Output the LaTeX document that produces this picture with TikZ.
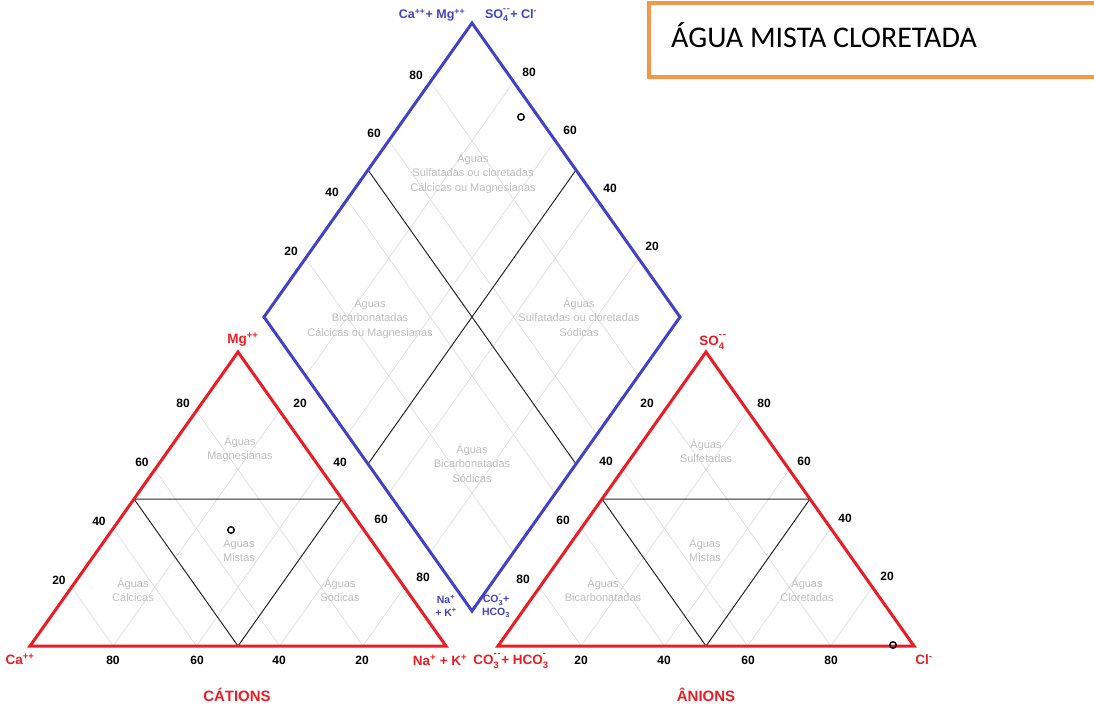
\documentclass[tikz,border=0pt]{standalone}
\usepackage{fontspec}
\setmainfont{Liberation Sans}
\newfontfamily\titlefont{Carlito}
\usetikzlibrary{calc}
\definecolor{pipred}{RGB}{235,28,36}
\definecolor{pipblue}{RGB}{66,66,200}
\definecolor{gridgray}{RGB}{222,222,222}
\definecolor{zonegray}{RGB}{190,190,190}
\definecolor{boxorange}{RGB}{247,150,70}
% ion with stacked sub- and superscript
\newcommand{\ionss}[2]{\begingroup
  \setbox0\hbox{\raisebox{.18em}{\textsuperscript{#2}}}%
  \setbox2\hbox{\raisebox{-.12em}{\textsubscript{#1}}}%
  \ifdim\wd0>\wd2 \wd2=\wd0 \fi\rlap{\box0}\box2\endgroup}
\newcommand{\dm}{-\kern.1em-}

\begin{document}
\begin{tikzpicture}[x=1pt,y=-1pt,
  tri/.style={draw=pipred,line width=3pt},
  dia/.style={draw=pipblue,line width=3pt},
  grd/.style={draw=gridgray,line width=0.7pt},
  split/.style={draw=black!85,line width=1pt},
  zone/.style={text=zonegray,font=\fontsize{11}{14.5}\selectfont,align=center},
  num/.style={font=\bfseries\fontsize{12}{12}\selectfont},
  redlbl/.style={text=pipred,font=\bfseries\fontsize{13.5}{14}\selectfont,inner sep=0pt},
  bluelbl/.style={text=pipblue,font=\bfseries\fontsize{12.5}{13}\selectfont,inner sep=0pt},
  smallblue/.style={text=pipblue,font=\bfseries\fontsize{10.5}{13}\selectfont,align=center,inner sep=0pt},
  sample/.style={draw,line width=1.4pt,circle,inner sep=0pt,minimum size=6.5pt}
]
\useasboundingbox (0,0) rectangle (1094,707);

\coordinate (ca) at (30,646);
\coordinate (na) at (446,646);
\coordinate (mg) at (238,352);
\coordinate (co) at (498,646);
\coordinate (cl) at (914,646);
\coordinate (so) at (706,352);
\coordinate (dt) at (472,23);
\coordinate (dl) at (264,317);
\coordinate (dr) at (680,317);
\coordinate (db) at (472,611);

% grid
\foreach \f in {0.2,0.4,0.6,0.8}{
  \draw[grd] ($(ca)!\f!(na)$) -- ($(mg)!\f!(na)$);
  \draw[grd] ($(na)!\f!(ca)$) -- ($(mg)!\f!(ca)$);
  \draw[grd] ($(co)!\f!(cl)$) -- ($(so)!\f!(cl)$);
  \draw[grd] ($(cl)!\f!(co)$) -- ($(so)!\f!(co)$);
  \draw[grd] ($(dl)!\f!(db)$) -- ($(dt)!\f!(dr)$);
  \draw[grd] ($(dl)!\f!(dt)$) -- ($(db)!\f!(dr)$);
}

% zone borders
\draw[split] ($(ca)!.5!(mg)$) -- ($(na)!.5!(mg)$) -- ($(ca)!.5!(na)$) -- cycle;
\draw[split] ($(co)!.5!(so)$) -- ($(cl)!.5!(so)$) -- ($(co)!.5!(cl)$) -- cycle;
\draw[split] ($(dl)!.5!(dt)$) -- ($(db)!.5!(dr)$);
\draw[split] ($(dt)!.5!(dr)$) -- ($(dl)!.5!(db)$);

% outlines
\draw[tri] (ca) -- (na) -- (mg) -- cycle;
\draw[tri] (co) -- (cl) -- (so) -- cycle;
\draw[dia] (dl) -- (dt) -- (dr) -- (db) -- cycle;

% scale numbers
\foreach \v/\x/\y in {20/59/580,40/99/521,60/142/462,80/183/403}
  \node[num] (cl\v) at (\x,\y) {\v};
\foreach \v/\x/\y in {20/300/403,40/340/462,60/381/519,80/423/577}
  \node[num] (cr\v) at (\x,\y) {\v};
\foreach \v/\x in {80/113,60/197,40/279,20/362}
  \node[num] (cb\v) at (\x,660) {\v};
\foreach \v/\x/\y in {20/647/403,40/606/461,60/563/520,80/523/579}
  \node[num] (al\v) at (\x,\y) {\v};
\foreach \v/\x/\y in {80/764/403,60/804/461,40/845/518,20/887/576}
  \node[num] (ar\v) at (\x,\y) {\v};
\foreach \v/\x in {20/581,40/664,60/748,80/831}
  \node[num] (ab\v) at (\x,660) {\v};
\foreach \v/\x/\y in {80/416/75,60/374/133,40/332/192,20/291/251}
  \node[num] (dul\v) at (\x,\y) {\v};
\foreach \v/\x/\y in {80/529/72,60/570/130,40/610/188,20/652/246}
  \node[num] (dur\v) at (\x,\y) {\v};

% zones
\node[zone] (zmag) at (240,449) {Águas\\Magnesianas};
\node[zone] (zmix1) at (239,550) {Águas\\Mistas};
\node[zone] (zcal) at (133,590) {Águas\\Cálcicas};
\node[zone] (zsod) at (340,590) {Águas\\Sódicas};
\node[zone] (zsul) at (706,451) {Águas\\Sulfetadas};
\node[zone] (zmix2) at (705,550) {Águas\\Mistas};
\node[zone] (zbic) at (603,590) {Águas\\Bicarbonatadas};
\node[zone] (zclo) at (807,590) {Águas\\Cloretadas};
\node[zone] (dtop) at (473,173) {Águas\\Sulfatadas ou cloretadas\\Cálcicas ou Magnesianas};
\node[zone] (dleft) at (370,318) {Águas\\Bicarbonatadas\\Cálcicas ou Magnesianas};
\node[zone] (dright) at (579,317) {Águas\\Sulfatadas ou cloretadas\\Sódicas};
\node[zone] (dbot) at (472,463) {Águas\\Bicarbonatadas\\Sódicas};

% axis labels
\node[redlbl] (lmg) at (243,340) {Mg\textsuperscript{++}};
\node[redlbl] (lca) at (20,659) {Ca\textsuperscript{++}};
\node[redlbl] (lna) at (440,660) {Na\textsuperscript{+} + K\textsuperscript{+}};
\node[redlbl,font=\bfseries\fontsize{15}{15}\selectfont] (lcat) at (237,695) {CÁTIONS};
\node[redlbl] (lso) at (713,342) {SO\ionss{4}{\dm}};
\node[redlbl] (lco) at (511,661) {CO\ionss{3}{\dm}+ HCO\ionss{3}{-}};
\node[redlbl] (lcl) at (924,660) {Cl\textsuperscript{-}};
\node[redlbl,font=\bfseries\fontsize{15}{15}\selectfont] (lan) at (706,695) {ÂNIONS};
\node[bluelbl] (lcamg) at (432,15) {Ca\textsuperscript{++}+ Mg\textsuperscript{++}};
\node[bluelbl] (lsocl) at (511,15) {SO\ionss{4}{\dm}+ Cl\textsuperscript{-}};
\node[smallblue] (lnak) at (446,606) {Na\textsuperscript{+}\\+ K\textsuperscript{+}};
\node[smallblue] (lhco) at (496,606) {CO\ionss{3}{-}+\\HCO\textsubscript{3}};

% samples
\node[sample] (s1) at (231,530) {};
\node[sample] (s2) at (521,117) {};
\node[sample] (s3) at (893,645) {};

% title
\draw[draw=boxorange,line width=4.5pt] (649,3) rectangle (1110,77);
\node[anchor=west,inner sep=0pt,font=\titlefont\fontsize{30}{30}\selectfont] (title) at (671,35) {ÁGUA MISTA CLORETADA};
\end{tikzpicture}
\end{document}
